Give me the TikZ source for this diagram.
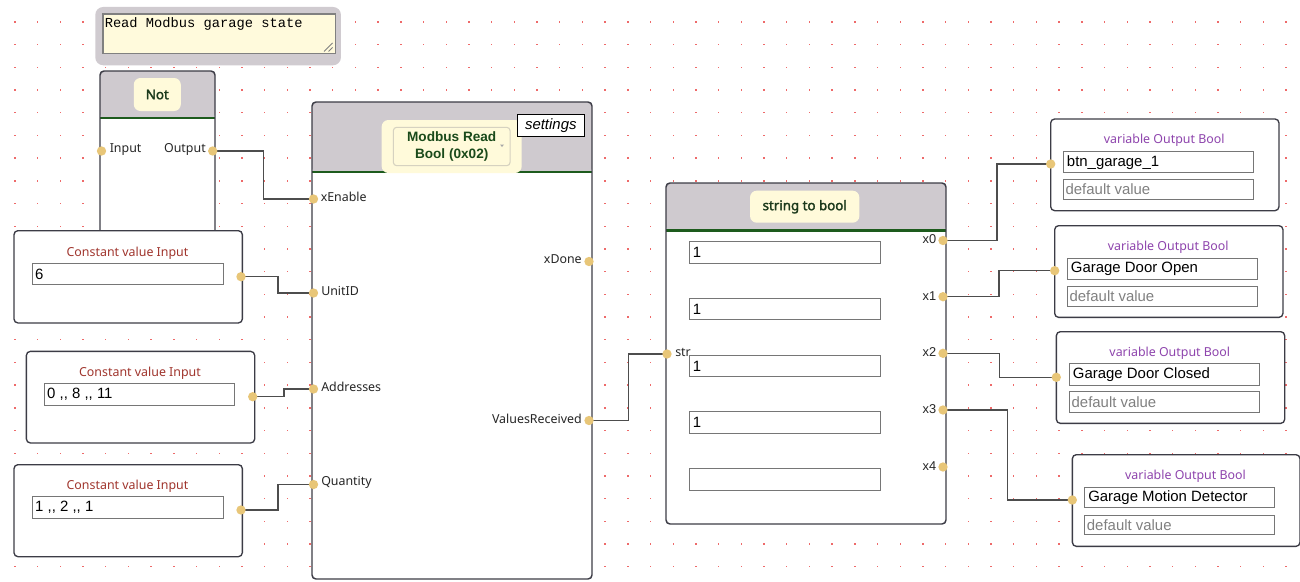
\documentclass[tikz,border=0pt]{standalone}
\usepackage{fontspec}
\setmainfont{Liberation Sans}
\newfontfamily\segf{Noto Sans}
\newfontfamily\segbf{Noto Sans}[FakeBold=2.2]
\newfontfamily\monof{Liberation Mono}
\definecolor{hdrc}{HTML}{CFCACF}
\definecolor{bordc}{HTML}{3C3C46}
\definecolor{greenc}{HTML}{1D5B1D}
\definecolor{pillc}{HTML}{FFFADA}
\definecolor{titlec}{HTML}{1C3A1C}
\definecolor{mbtxtc}{HTML}{1A4A1A}
\definecolor{selc}{HTML}{D6D2C0}
\definecolor{portc}{HTML}{E8C678}
\definecolor{wirec}{HTML}{4D4D4D}
\definecolor{constc}{HTML}{A0352D}
\definecolor{varc}{HTML}{8E44AD}
\definecolor{fieldc}{HTML}{767676}
\definecolor{defc}{HTML}{808080}
\definecolor{dotc}{HTML}{EE6A6A}
\definecolor{cmtc}{HTML}{D0CBD0}
\definecolor{notec}{HTML}{FFFADC}
\definecolor{lblc}{HTML}{262626}
\newcommand\lblfont{\segf\fontsize{9.3}{11}\selectfont}
\newcommand\valfont{\fontsize{11.2}{13}\selectfont}
\newcommand\xfont{\fontsize{9.6}{11}\selectfont}
\tikzset{
  blockbox/.style n args={3}{draw=bordc, line width=1.1pt, fill=white, rounded corners=3pt,
    minimum width=#1*0.75pt, minimum height=#2*0.75pt, anchor=north west, inner sep=0pt, outer sep=0pt,
    path picture={\fill[hdrc] (path picture bounding box.north west) rectangle ++(#1,#3);
      \draw[greenc, line width=1.6pt] (path picture bounding box.north west) ++(0,#3) -- ++(#1,0);}},
  cbox/.style 2 args={draw=bordc, line width=1pt, fill=white, rounded corners=3pt,
    minimum width=#1*0.75pt, minimum height=#2*0.75pt, anchor=north west, inner sep=0pt},
  field/.style 2 args={draw=fieldc, line width=0.8pt, fill=white,
    minimum width=#1*0.75pt, minimum height=#2*0.75pt, anchor=north west, inner sep=0pt},
  valtxt/.style={anchor=west, inner sep=0pt, font=\valfont, text=black},
  deftxt/.style={anchor=west, inner sep=0pt, font=\valfont, text=defc},
  pill/.style={fill=pillc, rounded corners=5pt, inner sep=0pt, font=\segbf\fontsize{10}{12}\selectfont, text=titlec},
  port/.style={circle, fill=portc, inner sep=0pt, minimum size=7pt},
  lbl/.style={inner sep=0pt, font=\lblfont, text=lblc},
  xlbl/.style={inner sep=0pt, font=\xfont, text=lblc, anchor=east},
  ctitle/.style={inner sep=0pt, font=\lblfont, text=constc},
  vtitle/.style={inner sep=0pt, font=\lblfont, text=varc},
  wire/.style={draw=wirec, line width=1.1pt},
}
\begin{document}
\begin{tikzpicture}[x=0.75pt,y=-0.75pt]
\useasboundingbox[fill=white] (0,0) rectangle (1300,582);
% grid dots
\foreach \i in {0,...,57}{\foreach \j in {0,...,25}{
  \fill[dotc] ({14.9+22.7*\i-0.7},{-0.8+22.7*\j-0.7}) rectangle ++(1.4,1.4);}}
% comment
\node[fill=cmtc, rounded corners=6pt, minimum width=245.7*0.75pt, minimum height=58.3*0.75pt, anchor=north west, inner sep=0pt] (cmtbg) at (95,6.7) {};
\node[draw=gray, fill=notec, line width=1pt, minimum width=232.7*0.75pt, minimum height=39.4*0.75pt, anchor=north west, inner sep=0pt] (cmtbox) at (102.3,13.3) {};
\node[anchor=west, inner sep=0pt, font=\monof\fontsize{10.3}{12}\selectfont] (cmttxt) at (104.5,24) {Read Modbus garage state};
\draw[gray, line width=0.6pt] (332.5,43) -- (324,51.5) (332.5,47.5) -- (328.5,51.5);
% Not block
\node[blockbox={115}{179}{47}] (notblk) at (100,71) {};
\node[pill, minimum width=47*0.75pt, minimum height=33*0.75pt] (notttl) at (157.3,94.5) {Not};
% Modbus block
\node[blockbox={280}{477}{70}] (mb) at (312,102) {};
\node[pill, minimum width=140*0.75pt, minimum height=53*0.75pt] (mbttl) at (451.7,146.5) {};
\node[draw=selc, fill=pillc, rounded corners=2.5pt, line width=0.8pt, minimum width=116.7*0.75pt, minimum height=38.4*0.75pt, inner sep=0pt, align=center, font=\bfseries\fontsize{10.2}{12.5}\selectfont, text=mbtxtc] (mbsel) at (451.7,146.5) {Modbus Read\\Bool (0x02)};
\fill[gray!70] (500,144.5) -- (504,144.5) -- (502,147) -- cycle;
\node[draw=black, fill=white, line width=0.7pt, minimum width=67*0.75pt, minimum height=21.7*0.75pt, inner sep=0pt, font=\itshape\fontsize{11.2}{13}\selectfont] (mbset) at (550.8,125.2) {settings};
% string to bool block
\node[blockbox={280}{341}{47.5}] (sb) at (666,183) {};
\node[pill, minimum width=109.3*0.75pt, minimum height=32*0.75pt] (sbttl) at (804.7,206.7) {string to bool};
\node[field={190.7}{21.4}] (sf0) at (689.3,241.3) {};
\node[field={190.7}{21.4}] (sf1) at (689.3,298) {};
\node[field={190.7}{21.4}] (sf2) at (689.3,354.7) {};
\node[field={190.7}{21.4}] (sf3) at (689.3,411.4) {};
\node[field={190.7}{21.4}] (sf4) at (689.3,468.1) {};
\node[valtxt] (sv0) at ([xshift=2.5pt]sf0.west) {1};
\node[valtxt] (sv1) at ([xshift=2.5pt]sf1.west) {1};
\node[valtxt] (sv2) at ([xshift=2.5pt]sf2.west) {1};
\node[valtxt] (sv3) at ([xshift=2.5pt]sf3.west) {1};
% constant boxes
\node[cbox={228.4}{92.3}] (c1) at (13.3,230) {};
\node[ctitle] (c1t) at (127.5,253) {Constant value Input};
\node[field={190.4}{21}] (c1f) at (32.3,263.3) {};
\node[valtxt] (c1v) at ([xshift=2pt]c1f.west) {6};
\node[cbox={228.3}{91.6}] (c2) at (25.7,350.7) {};
\node[ctitle] (c2t) at (140,373.3) {Constant value Input};
\node[field={190}{21.7}] (c2f) at (44.3,383.3) {};
\node[valtxt] (c2v) at ([xshift=2pt]c2f.west) {0 {,}{,} 8 {,}{,} 11};
\node[cbox={228.4}{92}] (c3) at (13.3,464) {};
\node[ctitle] (c3t) at (127.5,486.7) {Constant value Input};
\node[field={190.4}{22.3}] (c3f) at (32.3,496) {};
\node[valtxt] (c3v) at ([xshift=2pt]c3f.west) {1 {,}{,} 2 {,}{,} 1};
% variable output boxes
\node[cbox={228.3}{91.7}] (v1) at (1050,118.3) {};
\node[vtitle] (v1t) at (1164.2,140.3) {variable Output Bool};
\node[field={190.6}{21.3}] (v1f) at (1062.7,151) {};
\node[field={190.6}{20.6}] (v1d) at (1062.7,178.7) {};
\node[valtxt] (v1v) at ([xshift=3pt]v1f.west) {btn\_garage\_1};
\node[deftxt] (v1dv) at ([xshift=2pt]v1d.west) {default value};
\node[cbox={228.3}{91.7}] (v2) at (1054,225) {};
\node[vtitle] (v2t) at (1168.2,247) {variable Output Bool};
\node[field={190}{21.3}] (v2f) at (1066.7,257.7) {};
\node[field={190}{20}] (v2d) at (1066.7,285.7) {};
\node[valtxt] (v2v) at ([xshift=3pt]v2f.west) {Garage Door Open};
\node[deftxt] (v2dv) at ([xshift=2pt]v2d.west) {default value};
\node[cbox={228.3}{91.7}] (v3) at (1055.7,331) {};
\node[vtitle] (v3t) at (1169.8,353.3) {variable Output Bool};
\node[field={190}{22}] (v3f) at (1068.7,363.3) {};
\node[field={190}{20.7}] (v3d) at (1068.7,391) {};
\node[valtxt] (v3v) at ([xshift=3pt]v3f.west) {Garage Door Closed};
\node[deftxt] (v3dv) at ([xshift=2pt]v3d.west) {default value};
\node[cbox={227.6}{91.7}] (v4) at (1071.7,454) {};
\node[vtitle] (v4t) at (1185.5,476) {variable Output Bool};
\node[field={190.3}{20.6}] (v4f) at (1084,486.7) {};
\node[field={190.3}{19.3}] (v4d) at (1084,514.7) {};
\node[valtxt] (v4v) at ([xshift=3pt]v4f.west) {Garage Motion Detector};
\node[deftxt] (v4dv) at ([xshift=2pt]v4d.west) {default value};
% port coordinates
\coordinate (pNotIn) at (101.5,151);
\coordinate (pNotOut) at (212.7,151);
\coordinate (pEn) at (313.5,199);
\coordinate (pUnit) at (313.5,293);
\coordinate (pAddr) at (313.5,389);
\coordinate (pQty) at (313.5,484.5);
\coordinate (pDone) at (589,261.5);
\coordinate (pVal) at (589,420.5);
\coordinate (pC1) at (241,276.7);
\coordinate (pC2) at (252.7,396.7);
\coordinate (pC3) at (241,510);
\coordinate (pStr) at (667,354);
\coordinate (pX0) at (943,240.5);
\coordinate (pX1) at (943,296.7);
\coordinate (pX2) at (943,353.3);
\coordinate (pX3) at (943,410);
\coordinate (pX4) at (943,467);
\coordinate (pV1) at (1050.7,164);
\coordinate (pV2) at (1054.7,270.7);
\coordinate (pV3) at (1056.3,377.3);
\coordinate (pV4) at (1072.3,500);
% wires
\draw[wire] (pNotOut) -- ++(50.8,0) |- (pEn);
\draw[wire] (pC1) -- ++(37,0) |- (pUnit);
\draw[wire] (pC2) -- ++(31.3,0) |- (pAddr);
\draw[wire] (pC3) -- ++(37,0) |- (pQty);
\draw[wire] (pVal) -- ++(39.5,0) |- (pStr);
\draw[wire] (pX0) -- ++(54,0) |- (pV1);
\draw[wire] (pX1) -- ++(56,0) |- (pV2);
\draw[wire] (pX2) -- ++(56.3,0) |- (pV3);
\draw[wire] (pX3) -- ++(64.3,0) |- (pV4);
% ports
\foreach \p in {NotIn,NotOut,En,Unit,Addr,Qty,Done,Val,C1,C2,C3,Str,X0,X1,X2,X3,X4,V1,V2,V3,V4}{
  \node[port] (dot\p) at (p\p) {};}
% port labels
\node[lbl, anchor=west] (lNotIn) at (109.5,149.5) {Input};
\node[lbl, anchor=east] (lNotOut) at (206,149.5) {Output};
\node[lbl, anchor=west] (lEn) at (320.5,197) {xEnable};
\node[lbl, anchor=west] (lUnit) at (321,291) {UnitID};
\node[lbl, anchor=west] (lAddr) at (321,386.5) {Addresses};
\node[lbl, anchor=west] (lQty) at (321,482) {Quantity};
\node[lbl, anchor=east] (lDone) at (582,259.5) {xDone};
\node[lbl, anchor=east] (lVal) at (582,418.5) {ValuesReceived};
\node[lbl, anchor=west] (lStr) at (675,352.5) {str};
\node[xlbl] (lX0) at (936.5,239.5) {x0};
\node[xlbl] (lX1) at (936.5,296) {x1};
\node[xlbl] (lX2) at (936.5,352.5) {x2};
\node[xlbl] (lX3) at (936.5,409) {x3};
\node[xlbl] (lX4) at (936.5,466) {x4};
\end{tikzpicture}
\end{document}
